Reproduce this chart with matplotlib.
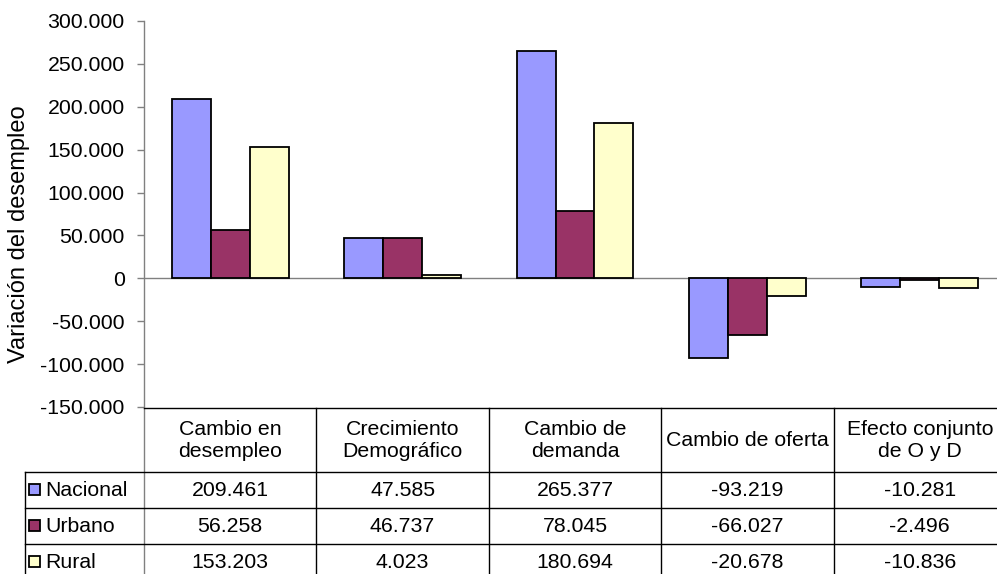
import matplotlib
matplotlib.use("Agg")
import matplotlib.pyplot as plt
import numpy as np

categories = ["Cambio en\ndesempleo", "Crecimiento\nDemográfico", "Cambio de\ndemanda",
              "Cambio de oferta", "Efecto conjunto\nde O y D"]
series_names = ["Nacional", "Urbano", "Rural"]
nacional = [209461, 47585, 265377, -93219, -10281]
urbano = [56258, 46737, 78045, -66027, -2496]
rural = [153203, 4023, 180694, -20678, -10836]
yticks = [-150000, -100000, -50000, 0, 50000, 100000, 150000, 200000, 250000, 300000]
colors = ["#9999FF", "#993366", "#FFFFCC"]

plt.rcParams['font.family'] = ['Liberation Sans', 'DejaVu Sans']
FS = 15.3
FS_LABEL = 17

W, H = 997, 574
fig = plt.figure(figsize=(W / 100, H / 100), dpi=100)

# pixel layout
ax_left, ax_right, ax_top, ax_bot = 144, 1006, 21, 407
ax = fig.add_axes([ax_left / W, 1 - ax_bot / H, (ax_right - ax_left) / W, (ax_bot - ax_top) / H])

data = [nacional, urbano, rural]
x = np.arange(len(categories))
bw = 0.226
for i, (vals, c) in enumerate(zip(data, colors)):
    ax.bar(x + (i - 1) * bw, vals, width=bw, color=c, edgecolor="black", linewidth=1.3, zorder=3)

ax.axhline(0, color="#808080", linewidth=1.0, zorder=2)
ax.set_xlim(-0.5, len(categories) - 0.5)
ax.set_ylim(-150000, 300000)
ax.set_yticks(yticks)
ax.set_yticklabels([f"{v:,}".replace(",", ".") for v in yticks], fontsize=FS)
ax.set_xticks([])
for s in ["top", "right", "bottom", "left"]:
    ax.spines[s].set_visible(False)
ax.tick_params(axis="y", direction="out", length=5, width=1, color="#808080", pad=9)
ax.patch.set_alpha(0)

# overlay for table
ov = fig.add_axes([0, 0, 1, 1])
ov.set_xlim(0, W)
ov.set_ylim(H, 0)
ov.axis("off")
ov.patch.set_alpha(0)

gray = "#808080"
ov.plot([ax_left, ax_left], [ax_top, H + 5], color=gray, lw=1.0)
col_w = (ax_right - ax_left) / len(categories)
col_edges = [ax_left + k * col_w for k in range(len(categories) + 1)]
header_top, header_bot = 407.5, 472
row_h = 36
rows_y = [header_bot + k * row_h for k in range(len(series_names) + 1)]
label_left = 25

ov.plot([ax_left, W + 10], [header_top, header_top], color="black", lw=1.0)
for yv in rows_y[:-1]:
    ov.plot([label_left, W + 10], [yv, yv], color="black", lw=1.0)
for xv in col_edges[1:]:
    ov.plot([xv, xv], [header_top, H + 5], color="black", lw=1.0)
ov.plot([label_left, label_left], [header_bot, H + 5], color="black", lw=1.0)

for k, cat in enumerate(categories):
    cx = (col_edges[k] + col_edges[k + 1]) / 2
    ov.text(cx, (header_top + header_bot) / 2 + 1, cat, ha="center", va="center",
            fontsize=FS, linespacing=1.2)

for r, (name, vals, c) in enumerate(zip(series_names, data, colors)):
    cy = rows_y[r] + row_h / 2
    ov.add_patch(plt.Rectangle((29, cy - 6), 11, 11, facecolor=c, edgecolor="black", lw=1.3))
    ov.text(45, cy + 1, name, ha="left", va="center", fontsize=FS)
    for k, v in enumerate(vals):
        cx = (col_edges[k] + col_edges[k + 1]) / 2
        ov.text(cx, cy + 1, f"{v:,}".replace(",", "."), ha="center", va="center", fontsize=FS)

ov.text(19, 234, "Variación del desempleo", rotation=90, ha="center", va="center", fontsize=FS_LABEL)

fig.savefig("out.png", dpi=100)
